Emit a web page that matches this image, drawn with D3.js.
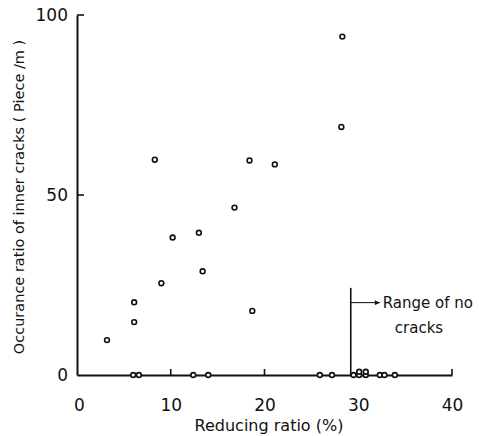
<!DOCTYPE html>
<html>
<head>
<meta charset="utf-8">
<script src="https://cdn.jsdelivr.net/npm/d3@7"></script>
<style>
  body { margin: 0; background: #fff; }
  text { font-family: "DejaVu Sans", sans-serif; fill: #111; }
</style>
</head>
<body>
<svg></svg>
<script>
// reducing ratio (%) and occurance ratio (piece/m)
var reducing = [3.2, 6.1, 6.1, 8.3, 9.0, 10.2, 13.0, 13.4, 16.8, 18.4, 18.7, 21.1, 28.2, 28.3];
var occurance = [9.7, 14.7, 20.2, 59.8, 25.5, 38.2, 39.5, 28.8, 46.5, 59.6, 17.8, 58.5, 68.9, 94.0];

// samples with no cracks (sitting on the axis)
var zeroReducing = [6.0, 6.6, 12.4, 14.0, 25.9, 27.2, 29.5, 30.1, 30.1, 30.8, 30.8, 32.3, 32.8, 33.9];
var zeroOccurance = [0, 0, 0, 0, 0, 0, 0, 0, 0.9, 0, 0.9, 0, 0, 0];

var xTicks = [0, 10, 20, 30, 40];
var yTicks = [0, 50, 100];
// tick marks actually drawn on the axes
var xMarks = [10, 20, 40];
var yMarks = [50, 100];

// limit of the "no cracks" range
var noCrackLimit = 29.2;

var width = 479, height = 436;

var svg = d3.select("svg")
    .attr("width", width)
    .attr("height", height);

var x = d3.scaleLinear().domain([0, 40]).range([77, 452]);
var y = d3.scaleLinear().domain([0, 100]).range([375, 15]);

// x axis
var xAxis = svg.append("g")
    .attr("transform", "translate(0," + y(0) + ")")
    .call(d3.axisBottom(x).tickValues(xTicks).tickSize(0).tickPadding(24));
xAxis.select(".domain").attr("stroke-width", 2).attr("stroke", "#111");
xAxis.selectAll(".tick text")
    .style("font-size", "17px")
    .attr("dx", function(d) { return d == 0 ? 2 : 0; });

// y axis
var yAxis = svg.append("g")
    .attr("transform", "translate(" + x(0) + ",0)")
    .call(d3.axisLeft(y).tickValues(yTicks).tickSize(0).tickPadding(9));
yAxis.select(".domain").attr("stroke-width", 2).attr("stroke", "#111");
yAxis.selectAll(".tick text").style("font-size", "17px");

// inward tick marks
svg.append("g")
  .selectAll("line")
  .data(xMarks)
  .enter()
  .append("line")
    .attr("x1", function(d) { return x(d); })
    .attr("x2", function(d) { return x(d); })
    .attr("y1", y(0))
    .attr("y2", y(0) - 6)
    .attr("stroke", "#111")
    .attr("stroke-width", 1.6);

svg.append("g")
  .selectAll("line")
  .data(yMarks)
  .enter()
  .append("line")
    .attr("x1", x(0))
    .attr("x2", x(0) + 7)
    .attr("y1", function(d) { return y(d); })
    .attr("y2", function(d) { return y(d); })
    .attr("stroke", "#111")
    .attr("stroke-width", 1.6);

// no-crack range marker
svg.append("line")
    .attr("x1", x(noCrackLimit)).attr("x2", x(noCrackLimit))
    .attr("y1", y(0)).attr("y2", y(24.2))
    .attr("stroke", "#111").attr("stroke-width", 1.6);

svg.append("defs").append("marker")
    .attr("id", "head")
    .attr("viewBox", "0 0 10 10")
    .attr("refX", 10).attr("refY", 5)
    .attr("markerWidth", 7).attr("markerHeight", 5)
    .attr("markerUnits", "userSpaceOnUse")
    .attr("orient", "auto")
  .append("path")
    .attr("d", "M0,0L10,5L0,10z")
    .attr("fill", "#111");

svg.append("line")
    .attr("x1", x(noCrackLimit)).attr("x2", x(32.3))
    .attr("y1", y(20.1)).attr("y2", y(20.1))
    .attr("stroke", "#111").attr("stroke-width", 1)
    .attr("marker-end", "url(#head)");

svg.append("text")
    .attr("x", x(32.4) + 2).attr("y", y(20.1) + 5)
    .style("font-size", "15px")
    .text("Range of no");
svg.append("text")
    .attr("x", 419).attr("y", y(20.1) + 30)
    .attr("text-anchor", "middle")
    .style("font-size", "15px")
    .text("cracks");

// points
var pts = reducing.map(function(d, i) { return [d, occurance[i]]; })
    .concat(zeroReducing.map(function(d, i) { return [d, zeroOccurance[i]]; }));

svg.append("g")
  .selectAll("circle")
  .data(pts)
  .enter()
  .append("circle")
    .attr("cx", function(d) { return x(d[0]); })
    .attr("cy", function(d) { return y(d[1]); })
    .attr("r", 2.4)
    .attr("fill", "#fff")
    .attr("stroke", "#111")
    .attr("stroke-width", 1.6);

// axis titles
svg.append("text")
    .attr("x", 269).attr("y", 431)
    .attr("text-anchor", "middle")
    .style("font-size", "16px")
    .text("Reducing ratio (%)");

svg.append("text")
    .attr("transform", "translate(24,197) rotate(-90)")
    .attr("text-anchor", "middle")
    .style("font-size", "14.5px")
    .text("Occurance ratio of inner cracks ( Piece /m )");
</script>
</body>
</html>
